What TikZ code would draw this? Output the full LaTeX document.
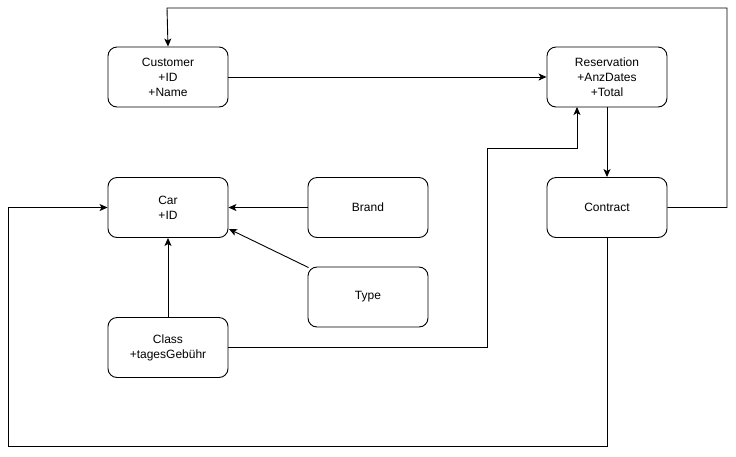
\documentclass[tikz,border=0pt]{standalone}
\usepackage{fontspec}
\setmainfont{Liberation Sans}
\usetikzlibrary{arrows.meta}
\begin{document}
\begin{tikzpicture}[x=1pt,y=-1pt,
  box/.style={draw,line width=0.9pt,rounded corners=9pt,minimum width=120pt,minimum height=60pt,align=center,font=\fontsize{12}{15}\selectfont,inner sep=0pt},
  conn/.style={line width=0.9pt,-{Stealth[length=8pt,width=7pt,inset=2pt]}}]
\useasboundingbox (0,0) rectangle (736,456);
\node[box] (cust) at (168,77) {Customer\\+ID\\+Name};
\node[box] (res) at (607,77) {Reservation\\+AnzDates\\+Total};
\node[box] (car) at (168,207.5) {Car\\+ID};
\node[box] (brand) at (368,207.5) {Brand};
\node[box] (contract) at (607,207.5) {Contract};
\node[box] (type) at (368,297) {Type};
\node[box] (class) at (168,347.5) {Class\\+tagesGebühr};
\draw[conn] (cust.east) -- (res.west);
\draw[conn] (res.south) -- (contract.north);
\draw[conn] (contract.east) -- (727,207.5) -- (727,8) -- (167,8) -- (cust.north);
\draw[conn] (brand.west) -- (car.east);
\draw[conn] (type.north west) ++(1,1) -- (229,229);
\draw[conn] (class.north) -- (car.south);
\draw[conn] (class.east) -- (487,347.5) -- (487,148) -- (577,148) -- (577,107);
\draw[conn] (contract.south) -- (607,446) -- (8,446) -- (8,207.5) -- (car.west);
\end{tikzpicture}
\end{document}
